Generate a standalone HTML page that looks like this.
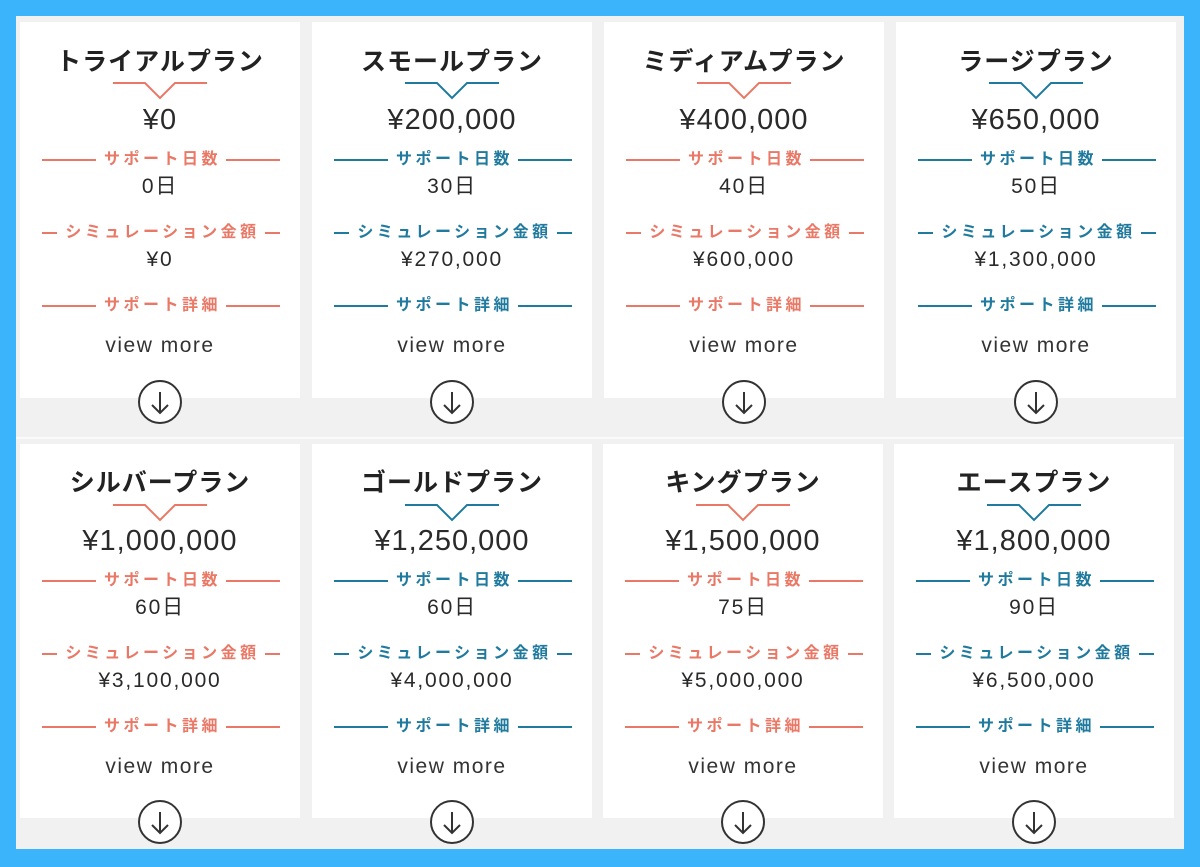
<!DOCTYPE html>
<html><head><meta charset="utf-8"><style>
*{margin:0;padding:0;box-sizing:border-box}
body{width:1200px;height:867px;background:#3bb4fb;position:relative;overflow:hidden;font-family:"Liberation Sans","Noto Sans CJK JP",sans-serif;color:#2a2a2a}
.inner{position:absolute;left:16px;top:16px;width:1168px;height:833px;background:#f1f1f1}
.sep{position:absolute;left:16px;top:437px;width:1168px;height:2px;background:#fafafa}
.card{position:absolute;width:280px;height:376px;background:#fff}
.c{position:absolute;left:0;width:100%;text-align:center;line-height:1}
.t{font-size:25px;font-weight:bold;letter-spacing:1px;color:#222;margin-top:2px}
.p{font-size:29px;letter-spacing:1px}
.v{font-size:21px;letter-spacing:1.8px}
.vm{font-size:21px;letter-spacing:1.5px;color:#333}
.lab{position:absolute;left:22px;width:238px;display:flex;align-items:center;font-size:16px;font-weight:bold;letter-spacing:3.5px;line-height:1;margin-top:2px}
.lab i{flex:1;height:2px}
.lab span{padding:0 5px 0 8px;white-space:nowrap}
.r .lab{color:#ea7866}.r .lab i{background:#ea7866}
.b .lab{color:#1f7a9e}.b .lab i{background:#1f7a9e}
.chev{position:absolute;left:93px;top:54px}
.circ{position:absolute;left:118px;top:358px;width:44px;height:44px;border:2px solid #333;border-radius:50%;background:#fff}
</style></head><body>
<div class="inner"></div><div class="sep"></div>
<svg width="0" height="0" style="position:absolute"><defs>
<g id="ar"><line x1="20" y1="10" x2="20" y2="31" stroke="#333" stroke-width="2"/><polyline points="12,23 20,31 28,23" fill="none" stroke="#333" stroke-width="2"/></g>
</defs></svg>

<div class="card r" style="left:20px;top:22px">
<div class="c t" style="top:26px">トライアルプラン</div>
<svg class="chev" width="94" height="24"><polyline points="0,7 32,7 47,22 62,7 94,7" fill="none" stroke="#ea7866" stroke-width="2"/></svg>
<div class="c p" style="top:84px">¥0</div>
<div class="lab" style="top:128px"><i></i><span>サポート日数</span><i></i></div>
<div class="c v" style="top:154px">0日</div>
<div class="lab" style="top:201px"><i></i><span>シミュレーション金額</span><i></i></div>
<div class="c v" style="top:227px">¥0</div>
<div class="lab" style="top:274px"><i></i><span>サポート詳細</span><i></i></div>
<div class="c vm" style="top:313px">view more</div>
<div class="circ"><svg width="40" height="40"><use href="#ar"/></svg></div>
</div>

<div class="card b" style="left:312px;top:22px">
<div class="c t" style="top:26px">スモールプラン</div>
<svg class="chev" width="94" height="24"><polyline points="0,7 32,7 47,22 62,7 94,7" fill="none" stroke="#1f7a9e" stroke-width="2"/></svg>
<div class="c p" style="top:84px">¥200,000</div>
<div class="lab" style="top:128px"><i></i><span>サポート日数</span><i></i></div>
<div class="c v" style="top:154px">30日</div>
<div class="lab" style="top:201px"><i></i><span>シミュレーション金額</span><i></i></div>
<div class="c v" style="top:227px">¥270,000</div>
<div class="lab" style="top:274px"><i></i><span>サポート詳細</span><i></i></div>
<div class="c vm" style="top:313px">view more</div>
<div class="circ"><svg width="40" height="40"><use href="#ar"/></svg></div>
</div>

<div class="card r" style="left:604px;top:22px">
<div class="c t" style="top:26px">ミディアムプラン</div>
<svg class="chev" width="94" height="24"><polyline points="0,7 32,7 47,22 62,7 94,7" fill="none" stroke="#ea7866" stroke-width="2"/></svg>
<div class="c p" style="top:84px">¥400,000</div>
<div class="lab" style="top:128px"><i></i><span>サポート日数</span><i></i></div>
<div class="c v" style="top:154px">40日</div>
<div class="lab" style="top:201px"><i></i><span>シミュレーション金額</span><i></i></div>
<div class="c v" style="top:227px">¥600,000</div>
<div class="lab" style="top:274px"><i></i><span>サポート詳細</span><i></i></div>
<div class="c vm" style="top:313px">view more</div>
<div class="circ"><svg width="40" height="40"><use href="#ar"/></svg></div>
</div>

<div class="card b" style="left:896px;top:22px">
<div class="c t" style="top:26px">ラージプラン</div>
<svg class="chev" width="94" height="24"><polyline points="0,7 32,7 47,22 62,7 94,7" fill="none" stroke="#1f7a9e" stroke-width="2"/></svg>
<div class="c p" style="top:84px">¥650,000</div>
<div class="lab" style="top:128px"><i></i><span>サポート日数</span><i></i></div>
<div class="c v" style="top:154px">50日</div>
<div class="lab" style="top:201px"><i></i><span>シミュレーション金額</span><i></i></div>
<div class="c v" style="top:227px">¥1,300,000</div>
<div class="lab" style="top:274px"><i></i><span>サポート詳細</span><i></i></div>
<div class="c vm" style="top:313px">view more</div>
<div class="circ"><svg width="40" height="40"><use href="#ar"/></svg></div>
</div>

<div class="card r" style="left:20px;top:444px;height:374px">
<div class="c t" style="top:25px">シルバープラン</div>
<svg class="chev" width="94" height="24"><polyline points="0,7 32,7 47,22 62,7 94,7" fill="none" stroke="#ea7866" stroke-width="2"/></svg>
<div class="c p" style="top:83px">¥1,000,000</div>
<div class="lab" style="top:127px"><i></i><span>サポート日数</span><i></i></div>
<div class="c v" style="top:153px">60日</div>
<div class="lab" style="top:200px"><i></i><span>シミュレーション金額</span><i></i></div>
<div class="c v" style="top:226px">¥3,100,000</div>
<div class="lab" style="top:273px"><i></i><span>サポート詳細</span><i></i></div>
<div class="c vm" style="top:312px">view more</div>
<div class="circ" style="top:356px"><svg width="40" height="40"><use href="#ar"/></svg></div>
</div>

<div class="card b" style="left:312px;top:444px;height:374px">
<div class="c t" style="top:25px">ゴールドプラン</div>
<svg class="chev" width="94" height="24"><polyline points="0,7 32,7 47,22 62,7 94,7" fill="none" stroke="#1f7a9e" stroke-width="2"/></svg>
<div class="c p" style="top:83px">¥1,250,000</div>
<div class="lab" style="top:127px"><i></i><span>サポート日数</span><i></i></div>
<div class="c v" style="top:153px">60日</div>
<div class="lab" style="top:200px"><i></i><span>シミュレーション金額</span><i></i></div>
<div class="c v" style="top:226px">¥4,000,000</div>
<div class="lab" style="top:273px"><i></i><span>サポート詳細</span><i></i></div>
<div class="c vm" style="top:312px">view more</div>
<div class="circ" style="top:356px"><svg width="40" height="40"><use href="#ar"/></svg></div>
</div>

<div class="card r" style="left:603px;top:444px;height:374px">
<div class="c t" style="top:25px">キングプラン</div>
<svg class="chev" width="94" height="24"><polyline points="0,7 32,7 47,22 62,7 94,7" fill="none" stroke="#ea7866" stroke-width="2"/></svg>
<div class="c p" style="top:83px">¥1,500,000</div>
<div class="lab" style="top:127px"><i></i><span>サポート日数</span><i></i></div>
<div class="c v" style="top:153px">75日</div>
<div class="lab" style="top:200px"><i></i><span>シミュレーション金額</span><i></i></div>
<div class="c v" style="top:226px">¥5,000,000</div>
<div class="lab" style="top:273px"><i></i><span>サポート詳細</span><i></i></div>
<div class="c vm" style="top:312px">view more</div>
<div class="circ" style="top:356px"><svg width="40" height="40"><use href="#ar"/></svg></div>
</div>

<div class="card b" style="left:894px;top:444px;height:374px">
<div class="c t" style="top:25px">エースプラン</div>
<svg class="chev" width="94" height="24"><polyline points="0,7 32,7 47,22 62,7 94,7" fill="none" stroke="#1f7a9e" stroke-width="2"/></svg>
<div class="c p" style="top:83px">¥1,800,000</div>
<div class="lab" style="top:127px"><i></i><span>サポート日数</span><i></i></div>
<div class="c v" style="top:153px">90日</div>
<div class="lab" style="top:200px"><i></i><span>シミュレーション金額</span><i></i></div>
<div class="c v" style="top:226px">¥6,500,000</div>
<div class="lab" style="top:273px"><i></i><span>サポート詳細</span><i></i></div>
<div class="c vm" style="top:312px">view more</div>
<div class="circ" style="top:356px"><svg width="40" height="40"><use href="#ar"/></svg></div>
</div>
</body></html>
